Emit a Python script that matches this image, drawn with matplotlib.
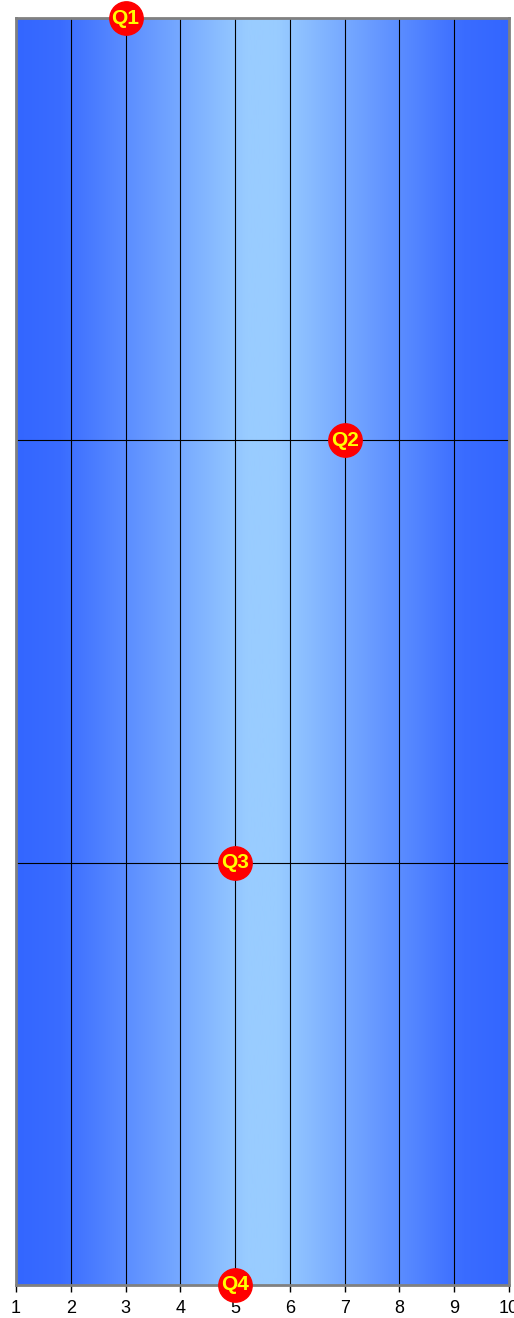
import numpy as np
import matplotlib
matplotlib.use("Agg")
import matplotlib.pyplot as plt
from matplotlib.colors import LinearSegmentedColormap

plt.rcParams['font.family'] = ['Liberation Sans', 'DejaVu Sans']

labels = ['Q1', 'Q2', 'Q3', 'Q4']
x_vals = [3, 7, 5, 5]
y_vals = [3, 2, 1, 0]
x_ticks = list(range(1, 11))

fig = plt.figure(figsize=(5.14, 13.18), dpi=100)
ax = fig.add_axes((16 / 514, 1 - 1285 / 1318, 493 / 514, 1267 / 1318))

# horizontal gradient background: dark blue edges, light blue centre
dark, light = '#3366ff', '#99ccff'
cmap = LinearSegmentedColormap.from_list(
    'bg', [(0, dark), (0.09, '#3a6cff'), (0.47, light), (0.53, light),
           (0.91, '#3a6cff'), (1, dark)])
grad = np.linspace(0, 1, 512).reshape(1, -1)
ax.imshow(grad, cmap=cmap, aspect='auto', extent=(1, 10, 0, 3), zorder=0)

ax.set_xlim(1, 10)
ax.set_ylim(0, 3)

for xv in x_ticks[1:-1]:
    ax.axvline(xv, color='black', lw=0.8, zorder=1)
for yv in [1, 2]:
    ax.axhline(yv, color='black', lw=0.8, zorder=1)

ax.plot(x_vals, y_vals, 'o', ms=24, color='red', mec='red', zorder=5, clip_on=False)
for lab, xv, yv in zip(labels, x_vals, y_vals):
    ax.text(xv, yv, lab, color='yellow', fontsize=15, fontweight='bold',
            ha='center', va='center', zorder=6, clip_on=False)

ax.set_xticks(x_ticks)
ax.set_yticks([])
ax.tick_params(axis='x', direction='out', length=5, width=1, color='black',
               labelsize=13, pad=6)
for s in ax.spines.values():
    s.set_color('#808080')
    s.set_linewidth(2)

fig.savefig('out.png', dpi=100)
